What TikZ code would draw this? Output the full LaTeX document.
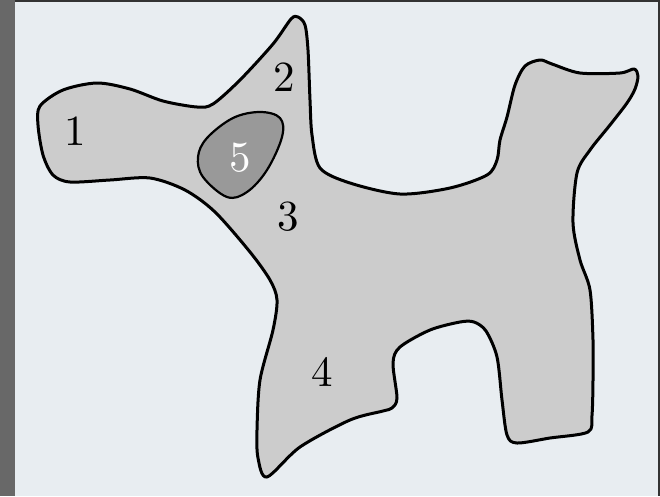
\documentclass[tikz,border=0pt]{standalone}
\usetikzlibrary{calc}
\definecolor{bgc}{HTML}{E8EDF1}
\definecolor{stripc}{HTML}{686868}
\definecolor{framec}{HTML}{333333}
\definecolor{regionc}{HTML}{CCCCCC}
\definecolor{holec}{HTML}{999999}
\newcommand{\biglbl}[1]{\scalebox{4.3}{#1}}
\begin{document}
\begin{tikzpicture}[x=1pt,y=-1pt,
  outline/.style={draw=black,line width=3pt,line join=round,fill=regionc},
  inner/.style={draw=black,line width=2.2pt,fill=holec},
  lbl/.style={inner sep=0pt}]
\useasboundingbox (0,0) rectangle (660,496);
\fill[bgc] (0,0) rectangle (660,496);
\fill[stripc] (0,0) rectangle (15,496);
\fill[framec] (15,0) rectangle (660,1.5);
\fill[framec] (658,0) rectangle (660,496);
% main region
\draw[outline] plot[smooth cycle,tension=0.5] coordinates {
 (40,106) (63,90) (97,83) (130,89) (163,101) (197,107) (213,104)
 (240,80) (273,44) (291,19) (298,17) (305,25) (308,50) (310,100)
 (312,135) (320,168) (350,183) (400,194) (450,188) (487,175)
 (497,160) (500,140) (507,117) (515,85) (525,66) (540,60) (552,64)
 (580,73) (620,73) (634,69) (638,76) (635,89) (627,103) (610,125)
 (590,150) (577,173) (573,223) (580,260) (590,290) (593,340)
 (593,380) (592,415) (588,432) (550,438) (517,443) (507,435)
 (502,400) (497,357) (486,331) (474,322) (460,322) (430,330)
 (400,347) (393,363) (397,398) (392,408) (383,411) (350,420)
 (300,447) (267,477) (258,458) (257,430) (260,380) (273,330)
 (277,300) (270,280) (250,252) (215,212) (185,190) (150,178)
 (110,180) (70,182) (53,175) (43,155) (38,125)};
% region 5
\draw[inner] plot[smooth cycle,tension=0.6] coordinates {
 (260,112) (280,118) (282,137) (267,170) (247,192) (227,197)
 (203,177) (198,157) (207,138) (233,118)};
\node[lbl] (n1) at (75,131) {\biglbl{1}};
\node[lbl] (n2) at (284,77) {\biglbl{2}};
\node[lbl,text=white] (n5) at (240,158) {\biglbl{5}};
\node[lbl] (n3) at (288,217) {\biglbl{3}};
\node[lbl] (n4) at (322,372) {\biglbl{4}};
\end{tikzpicture}
\end{document}
